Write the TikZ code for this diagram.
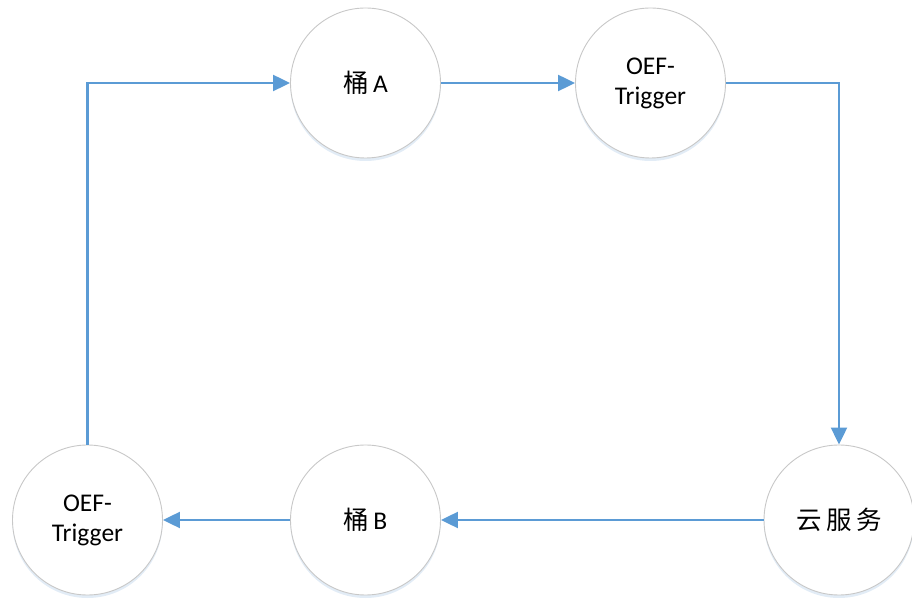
\documentclass[tikz,border=0pt]{standalone}
\usepackage{fontspec}
\setmainfont{Carlito}
\newfontfamily\cjk{Noto Sans CJK SC}
\usepackage{tikz}
\usetikzlibrary{arrows.meta,shadows}
\definecolor{flowblue}{HTML}{5B9BD5}
\definecolor{ringgray}{HTML}{C8C8C8}
\definecolor{glow}{HTML}{D6E4F2}

\begin{document}
\begin{tikzpicture}[x=1pt,y=1pt,
    >={Triangle[length=17pt,width=16pt]},
    stage/.style={circle,draw=ringgray,line width=0.9pt,fill=white,
        minimum size=150pt,inner sep=0pt,align=center,
        font=\fontsize{25.5}{30}\selectfont,
        drop shadow={shadow xshift=0pt,shadow yshift=-3pt,fill=glow,opacity=0.7}},
    flow/.style={->,draw=flowblue,line width=2.2pt}]
% Reference grid (temporary)
%\draw[help lines,step=50] (0,0) grid (912,602);
\useasboundingbox (0,0) rectangle (912,602);

\node[stage] (bucketA) at (365.5,519) {{\cjk 桶}\,A};
\node[stage] (trigA) at (650.5,519) {OEF-\\Trigger};
\node[stage] (cloud) at (839,82) {{\cjk 云\,服\,务}};
\node[stage] (bucketB) at (365.5,82) {{\cjk 桶}\,B};
\node[stage] (trigB) at (87.5,82) {OEF-\\Trigger};

\draw[flow] (trigB) |- (bucketA);
\draw[flow] (bucketA) -- (trigA);
\draw[flow] (trigA) -| (cloud);
\draw[flow] (cloud) -- (bucketB);
\draw[flow] (bucketB) -- (trigB);
\end{tikzpicture}
\end{document}
